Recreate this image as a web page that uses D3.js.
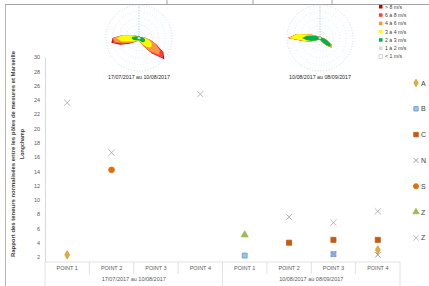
<!DOCTYPE html>
<html>
<head>
<meta charset="utf-8">
<script src="https://cdn.jsdelivr.net/npm/d3@7"></script>
<style>
  body { margin: 0; background: #fff; }
  svg { display: block; font-family: "Liberation Sans", Arial, sans-serif; }
</style>
</head>
<body>
<div id="chart"></div>
<script>
// categories (two-level axis)
var points = ["POINT 1", "POINT 2", "POINT 3", "POINT 4", "POINT 1", "POINT 2", "POINT 3", "POINT 4"];
var periods = ["17/07/2017 au 10/08/2017", "10/08/2017 au 08/09/2017"];
var yTicks = [2, 4, 6, 8, 10, 12, 14, 16, 18, 20, 22, 24, 26, 28, 30];

// series values (null = no point)
var serA  = [2.3, null, null, null, null, null, null, 3.0];
var serB  = [null, null, null, null, 2.2, null, 2.4, null];
var serC  = [null, null, null, null, null, 4.0, 4.4, 4.4];
var serN  = [null, null, null, null, null, null, 2.4, 2.3];
var serS  = [null, 14.2, null, null, null, null, null, null];
var serZ1 = [null, null, null, null, 5.1, null, null, null];
var serZ2 = [23.6, 16.6, null, 24.8, null, 7.6, 6.8, 8.4];

// wind roses : 36 sectors of 10°, starting at north, clockwise
var bearings = [0, 10, 20, 30, 40, 50, 60, 70, 80, 90, 100, 110, 120, 130, 140, 150, 160, 170,
                180, 190, 200, 210, 220, 230, 240, 250, 260, 270, 280, 290, 300, 310, 320, 330, 340, 350];
var speedClasses = ["> 8 m/s", "6 à 8 m/s", "4 à 6 m/s", "3 à 4 m/s", "2 à 3 m/s", "1 à 2 m/s", "< 1 m/s"];
// rose 1 (17/07 -> 10/08), frequencies per class
var rose1_lt1 = [.1, .1, .1, .1, .1, .1, .1, .1, .1, .1, .1, .1, .1, .1, .1, .1, .1, .1, .1, .1, .1, .1, .1, .1, .1, .1, .1, .1, .1, .1, .1, .1, .1, .1, .1, .1];
var rose1_1a2 = [.3, .2, .2, .2, .2, .2, .2, .3, .3, .3, .4, .4, .4, .4, .4, .3, .3, .3, .3, .3, .3, .3, .3, .3, .3, .4, .4, .4, .4, .3, .3, .3, .3, .3, .3, .3];
var rose1_2a3 = [.3, .2, .2, .1, .1, .2, .3, .4, .7, 1.0, 1.3, 1.5, 1.5, 1.5, 1.2, .9, .6, .4, .3, .3, .3, .4, .6, .7, .9, 1.2, 1.5, 1.8, 1.5, 1.0, .7, .4, .3, .3, .2, .2];
var rose1_3a4 = [0, 0, 0, 0, 0, 0, 0, 0, .1, .5, 1.2, 2.0, 2.5, 2.5, 1.8, .9, .4, .2, .1, 0, .1, .2, .3, .4, .8, 1.5, 3.5, 4.5, 3.0, 1.1, .4, .1, 0, 0, 0, 0];
var rose1_4a6 = [0, 0, 0, 0, 0, 0, 0, 0, 0, .1, .5, 1.2, 2.8, 3.5, 1.6, .6, .1, 0, 0, 0, 0, 0, .1, .3, .6, 1.2, 1.8, 1.2, 0, 0, 0, 0, 0, 0, 0, 0];
var rose1_6a8 = [0, 0, 0, 0, 0, 0, 0, 0, 0, 0, 0, .3, 1.0, 1.5, .7, .2, 0, 0, 0, 0, 0, 0, 0, .2, .5, 1.0, .8, 0, 0, 0, 0, 0, 0, 0, 0, 0];
var rose1_gt8 = [0, 0, 0, 0, 0, 0, 0, 0, 0, 0, 0, 0, .2, .5, .2, 0, 0, 0, 0, 0, 0, 0, 0, 0, .3, .6, .4, 0, 0, 0, 0, 0, 0, 0, 0, 0];
// rose 2 (10/08 -> 08/09)
var rose2_lt1 = [.1, .1, .1, .1, .1, .1, .1, .1, .1, .1, .1, .1, .1, .1, .1, .1, .1, .1, .1, .1, .1, .1, .1, .1, .1, .1, .1, .1, .1, .1, .1, .1, .1, .1, .1, .1];
var rose2_1a2 = [.2, .2, .2, .2, .2, .2, .2, .2, .2, .3, .3, .3, .3, .3, .3, .3, .2, .2, .2, .2, .2, .2, .2, .3, .3, .3, .4, .4, .4, .3, .3, .2, .2, .2, .2, .2];
var rose2_2a3 = [.1, .1, .1, .1, .1, .1, .1, .2, .3, .5, 1.1, 2.0, 3.4, 3.8, 2.4, 1.1, .5, .3, .2, .2, .2, .3, .4, .6, 1.1, 2.3, 3.5, 5.0, 3.5, 1.8, .8, .3, .2, .1, .1, .1];
var rose2_3a4 = [0, 0, 0, 0, 0, 0, 0, 0, 0, 0, 0, .1, .2, .3, .2, 0, 0, 0, 0, 0, 0, 0, 0, 0, 0, .3, 1.0, 4.0, 3.0, .8, .2, 0, 0, 0, 0, 0];
var rose2_4a6 = [0, 0, 0, 0, 0, 0, 0, 0, 0, 0, 0, 0, 0, 0, 0, 0, 0, 0, 0, 0, 0, 0, 0, 0, 0, 0, .1, .2, .1, 0, 0, 0, 0, 0, 0, 0];
var rose2_6a8 = [0, 0, 0, 0, 0, 0, 0, 0, 0, 0, 0, 0, 0, 0, 0, 0, 0, 0, 0, 0, 0, 0, 0, 0, 0, 0, 0, 0, 0, 0, 0, 0, 0, 0, 0, 0];
var rose2_gt8 = [0, 0, 0, 0, 0, 0, 0, 0, 0, 0, 0, 0, 0, 0, 0, 0, 0, 0, 0, 0, 0, 0, 0, 0, 0, 0, 0, 0, 0, 0, 0, 0, 0, 0, 0, 0];

var W = 429, H = 286;
var svg = d3.select("#chart").append("svg").attr("width", W).attr("height", H);

// frame bits (bottom of a cropped table above and left border)
svg.append("line").attr("x1", 5).attr("x2", W).attr("y1", 4.5).attr("y2", 4.5).attr("stroke", "#8c8c8c").attr("stroke-width", 0.8);
[167, 253, 332].forEach(function (x) {
    svg.append("line").attr("x1", x).attr("x2", x).attr("y1", 0).attr("y2", 4.5).attr("stroke", "#8c8c8c").attr("stroke-width", 0.8);
});
svg.append("line").attr("x1", 5.5).attr("x2", 5.5).attr("y1", 4.5).attr("y2", H).attr("stroke", "#a6a6a6").attr("stroke-width", 0.8);

// scales
var x = d3.scaleBand().domain(d3.range(points.length)).range([45, 400]);
var y = d3.scaleLinear().domain([1.3, 30]).range([262, 57]);

// y axis
var yAxis = svg.append("g").attr("transform", "translate(45,0)")
    .call(d3.axisLeft(y).tickValues(yTicks).tickSize(0).tickPadding(5));
yAxis.select(".domain").attr("stroke", "#d9d9d9");
yAxis.selectAll("text").attr("fill", "#595959").attr("font-size", 5.5);

// y title
var yt = svg.append("g").attr("transform", "translate(15,154) rotate(-90)");
yt.append("text").attr("text-anchor", "middle").attr("font-size", 5.3).attr("font-weight", "bold").attr("fill", "#404040")
    .attr("textLength", 206).attr("lengthAdjust", "spacingAndGlyphs")
    .text("Rapport des teneurs normalisées entre les pôles de mesures et Marseille");
yt.append("text").attr("text-anchor", "middle").attr("x", 10).attr("y", 8.5).attr("font-size", 5.3).attr("font-weight", "bold").attr("fill", "#404040")
    .text("Longchamp");

// x axis, two levels
svg.append("line").attr("x1", 45).attr("x2", 400).attr("y1", 262).attr("y2", 262).attr("stroke", "#d9d9d9").attr("stroke-width", 0.8);
var catAx = svg.append("g");
points.forEach(function (p, i) {
    catAx.append("text").attr("x", x(i) + x.bandwidth() / 2).attr("y", 270)
        .attr("text-anchor", "middle").attr("font-size", 5.5).attr("fill", "#595959").text(p);
});
d3.range(points.length + 1).forEach(function (i) {
    var xx = 45 + i * x.bandwidth();
    var outer = (i % 4 === 0);
    catAx.append("line").attr("x1", xx).attr("x2", xx).attr("y1", 262).attr("y2", outer ? 286 : 274)
        .attr("stroke", "#d9d9d9").attr("stroke-width", 0.8);
});
periods.forEach(function (p, g) {
    catAx.append("text").attr("x", x(g * 4) + 2 * x.bandwidth()).attr("y", 281)
        .attr("text-anchor", "middle").attr("font-size", 5.5).attr("fill", "#595959").text(p);
});

// markers
var series = [
    { name: "A", values: serA, shape: d3.symbolDiamond, fill: "#e2ad3b", stroke: "#d39c2a", size: 20 },
    { name: "B", values: serB, shape: d3.symbolSquare, fill: "#9dc3e6", stroke: "#5b9bd5", size: 24 },
    { name: "C", values: serC, shape: d3.symbolSquare, fill: "#c55a11", stroke: "#c55a11", size: 26 },
    { name: "N", values: serN, shape: d3.symbolX, fill: "none", stroke: "#8f7fb8", size: 22 },
    { name: "S", values: serS, shape: d3.symbolCircle, fill: "#e46c0a", stroke: "#e46c0a", size: 26 },
    { name: "Z", values: serZ1, shape: d3.symbolTriangle, fill: "#9bbb59", stroke: "#9bbb59", size: 22 },
    { name: "Z", values: serZ2, shape: d3.symbolX, fill: "none", stroke: "#a5a5a5", size: 26 }
];
var marks = svg.append("g");
series.forEach(function (s) {
    marks.selectAll(null)
        .data(s.values.map(function (v, i) { return { v: v, i: i }; }).filter(function (d) { return d.v !== null; }))
        .join("path")
        .attr("d", d3.symbol().type(s.shape).size(s.size))
        .attr("transform", function (d) { return "translate(" + (x(d.i) + x.bandwidth() / 2) + "," + y(d.v) + ")"; })
        .attr("fill", s.fill).attr("stroke", s.stroke).attr("stroke-width", 0.8);
});

// series legend
var lg = svg.append("g");
series.forEach(function (s, k) {
    var ly = 83 + k * 25.8;
    lg.append("path").attr("d", d3.symbol().type(s.shape).size(s.size * 0.8))
        .attr("transform", "translate(416," + ly + ")")
        .attr("fill", s.fill).attr("stroke", s.stroke).attr("stroke-width", 0.8);
    lg.append("text").attr("x", 421).attr("y", ly + 2.5).attr("font-size", 7).attr("fill", "#404040").text(s.name);
});

// wind legend
var windColors = ["#c00000", "#ff3b3b", "#f79646", "#ffff00", "#00b050", "#d9d9d9", "#ffffff"];
speedClasses.forEach(function (c, k) {
    var ly = 7 + k * 8.3;
    svg.append("rect").attr("x", 379).attr("y", ly - 2).attr("width", 3.5).attr("height", 3.5)
        .attr("fill", windColors[k]).attr("stroke", k === 6 ? "#a6a6a6" : "none").attr("stroke-width", 0.5);
    svg.append("text").attr("x", 385).attr("y", ly + 1.6).attr("font-size", 5.2).attr("fill", "#404040").text(c);
});

// wind roses
function drawRose(cx, cy, classes, caption) {
    var R = 33;
    var r = d3.scaleLinear().domain([0, 10]).range([0, R]);
    var g = svg.append("g").attr("transform", "translate(" + cx + "," + cy + ")");
    var n = bearings.length;
    // rings and spokes
    [0.2, 0.4, 0.6, 0.8, 1].forEach(function (f) {
        g.append("circle").attr("r", R * f).attr("fill", "none")
            .attr("stroke", "#bdd7ee").attr("stroke-width", f === 1 ? 0.9 : 0.5).attr("stroke-dasharray", "1,1.8");
    });
    bearings.forEach(function (b) {
        var a = b * Math.PI / 180;
        g.append("line").attr("x1", 0).attr("y1", 0)
            .attr("x2", R * Math.sin(a)).attr("y2", -R * Math.cos(a))
            .attr("stroke", "#ddebf7").attr("stroke-width", 0.4).attr("stroke-dasharray", "1,2");
    });
    g.append("line").attr("x1", 0).attr("y1", 0).attr("x2", 0).attr("y2", -R)
        .attr("stroke", "#9dc3e6").attr("stroke-width", 0.8).attr("stroke-dasharray", "1.2,1.5");
    // cumulative stacks, lowest class first
    var cum = bearings.map(function () { return 0; });
    var layers = [];
    classes.forEach(function (arr) {
        cum = cum.map(function (c, i) { return c + arr[i]; });
        layers.push(cum.slice());
    });
    var line = d3.lineRadial()
        .angle(function (d, i) { return bearings[i] * Math.PI / 180; })
        .radius(function (d) { return r(d); })
        .curve(d3.curveLinearClosed);
    var fills = windColors.slice().reverse(); // from < 1 to > 8
    for (var k = layers.length - 1; k >= 0; k--) {
        g.append("path").attr("d", line(layers[k])).attr("fill", fills[k]).attr("stroke", "none");
    }
    svg.append("text").attr("x", cx).attr("y", cy + 41).attr("text-anchor", "middle")
        .attr("font-size", 5.3).attr("fill", "#262626").text(caption);
}
drawRose(139, 38, [rose1_lt1, rose1_1a2, rose1_2a3, rose1_3a4, rose1_4a6, rose1_6a8, rose1_gt8], periods[0]);
drawRose(320, 38, [rose2_lt1, rose2_1a2, rose2_2a3, rose2_3a4, rose2_4a6, rose2_6a8, rose2_gt8], periods[1]);
</script>
</body>
</html>
